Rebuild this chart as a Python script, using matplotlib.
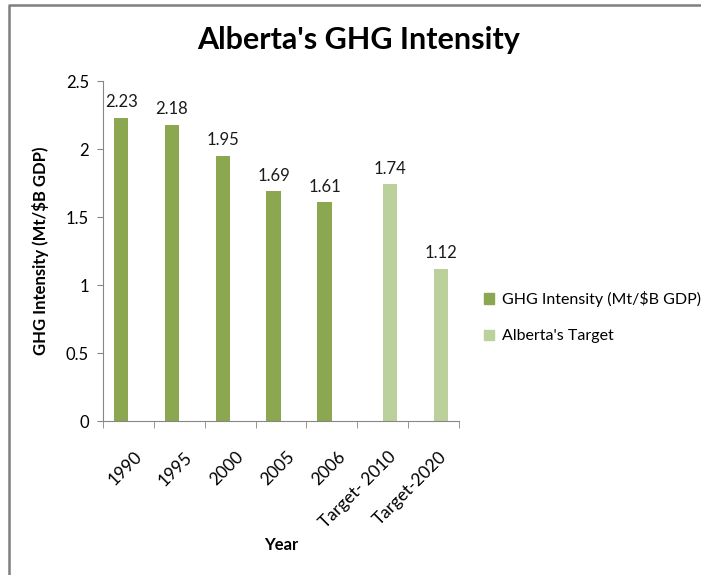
import numpy as np
import matplotlib.pyplot as plt
import matplotlib.transforms as mtransforms
from matplotlib.patches import Patch
from matplotlib.lines import Line2D

categories = ['1990', '1995', '2000', '2005', '2006', 'Target- 2010', 'Target-2020']
ghg_intensity = [2.23, 2.18, 1.95, 1.69, 1.61, np.nan, np.nan]
alberta_target = [np.nan, np.nan, np.nan, np.nan, np.nan, 1.74, 1.12]

dark_green = '#8BA750'
light_green = '#BBD09A'
axis_grey = '#868686'

plt.rcParams['font.family'] = ['Lato', 'DejaVu Sans']
plt.rcParams['font.size'] = 12

fig = plt.figure(figsize=(7.01, 5.75), dpi=100)
ax = fig.add_axes([103 / 701, 1 - 421 / 575, 356 / 701, 340 / 575])

x = np.arange(len(categories))
bw = 1 / 3.5
ax.bar(x - bw / 2, ghg_intensity, width=bw, color=dark_green)
ax.bar(x + bw / 2, alberta_target, width=bw, color=light_green)

for xi, v in zip(x, ghg_intensity):
    if not np.isnan(v):
        ax.text(xi - bw / 2, v + 0.055, f'{v:.2f}', ha='center', va='bottom', fontsize=12, color='#1a1a1a')
for xi, v in zip(x, alberta_target):
    if not np.isnan(v):
        ax.text(xi + bw / 2, v + 0.055, f'{v:.2f}', ha='center', va='bottom', fontsize=12, color='#1a1a1a')

ax.set_xlim(-0.5, len(categories) - 0.5)
ax.set_ylim(0, 2.5)
ax.set_yticks([0, 0.5, 1, 1.5, 2, 2.5])
ax.set_yticklabels(['0', '0.5', '1', '1.5', '2', '2.5'])
ax.set_xticks(x)
ax.set_xticklabels(categories, rotation=45, ha='right', rotation_mode='anchor')
ax.set_xticks(np.arange(len(categories) + 1) - 0.5, minor=True)
ax.tick_params(axis='x', which='major', length=0, pad=20, labelsize=12.5)
ax.tick_params(axis='x', which='minor', length=5, color=axis_grey)
ax.tick_params(axis='y', length=4, color=axis_grey, labelsize=12, pad=6)

shift = mtransforms.ScaledTranslation(5 / 100, 0, fig.dpi_scale_trans)
for lbl in ax.get_xticklabels():
    lbl.set_transform(lbl.get_transform() + shift)

for s in ['top', 'right']:
    ax.spines[s].set_visible(False)
for s in ['left', 'bottom']:
    ax.spines[s].set_color(axis_grey)

ax.set_xlabel('Year', fontsize=12, fontweight='bold', va='center')
ax.xaxis.set_label_coords(0.5, -(545 - 421) / 340)
ax.set_ylabel('GHG Intensity (Mt/$B GDP)', fontsize=12, fontweight='bold', labelpad=12)

fig.text(359 / 701, 1 - 40 / 575, "Alberta's GHG Intensity", ha='center', va='center',
         fontsize=22, fontweight='bold')

ax.legend(
    [Patch(color=dark_green), Patch(color=light_green)],
    ['GHG Intensity (Mt/$B GDP)', "Alberta's Target"],
    loc='center left', bbox_to_anchor=(1.03, 0.305), frameon=False,
    handlelength=0.6, handleheight=0.6, handletextpad=0.5, labelspacing=1.4, fontsize=11.5,
)

# outer chart border (top and left only visible)
fig.add_artist(Line2D([8.5 / 701, 8.5 / 701, 1.0], [0, 1 - 4.5 / 575, 1 - 4.5 / 575],
                      color='#7f7f7f', lw=1.8, transform=fig.transFigure))

fig.savefig('out.png', dpi=100, facecolor='w')
